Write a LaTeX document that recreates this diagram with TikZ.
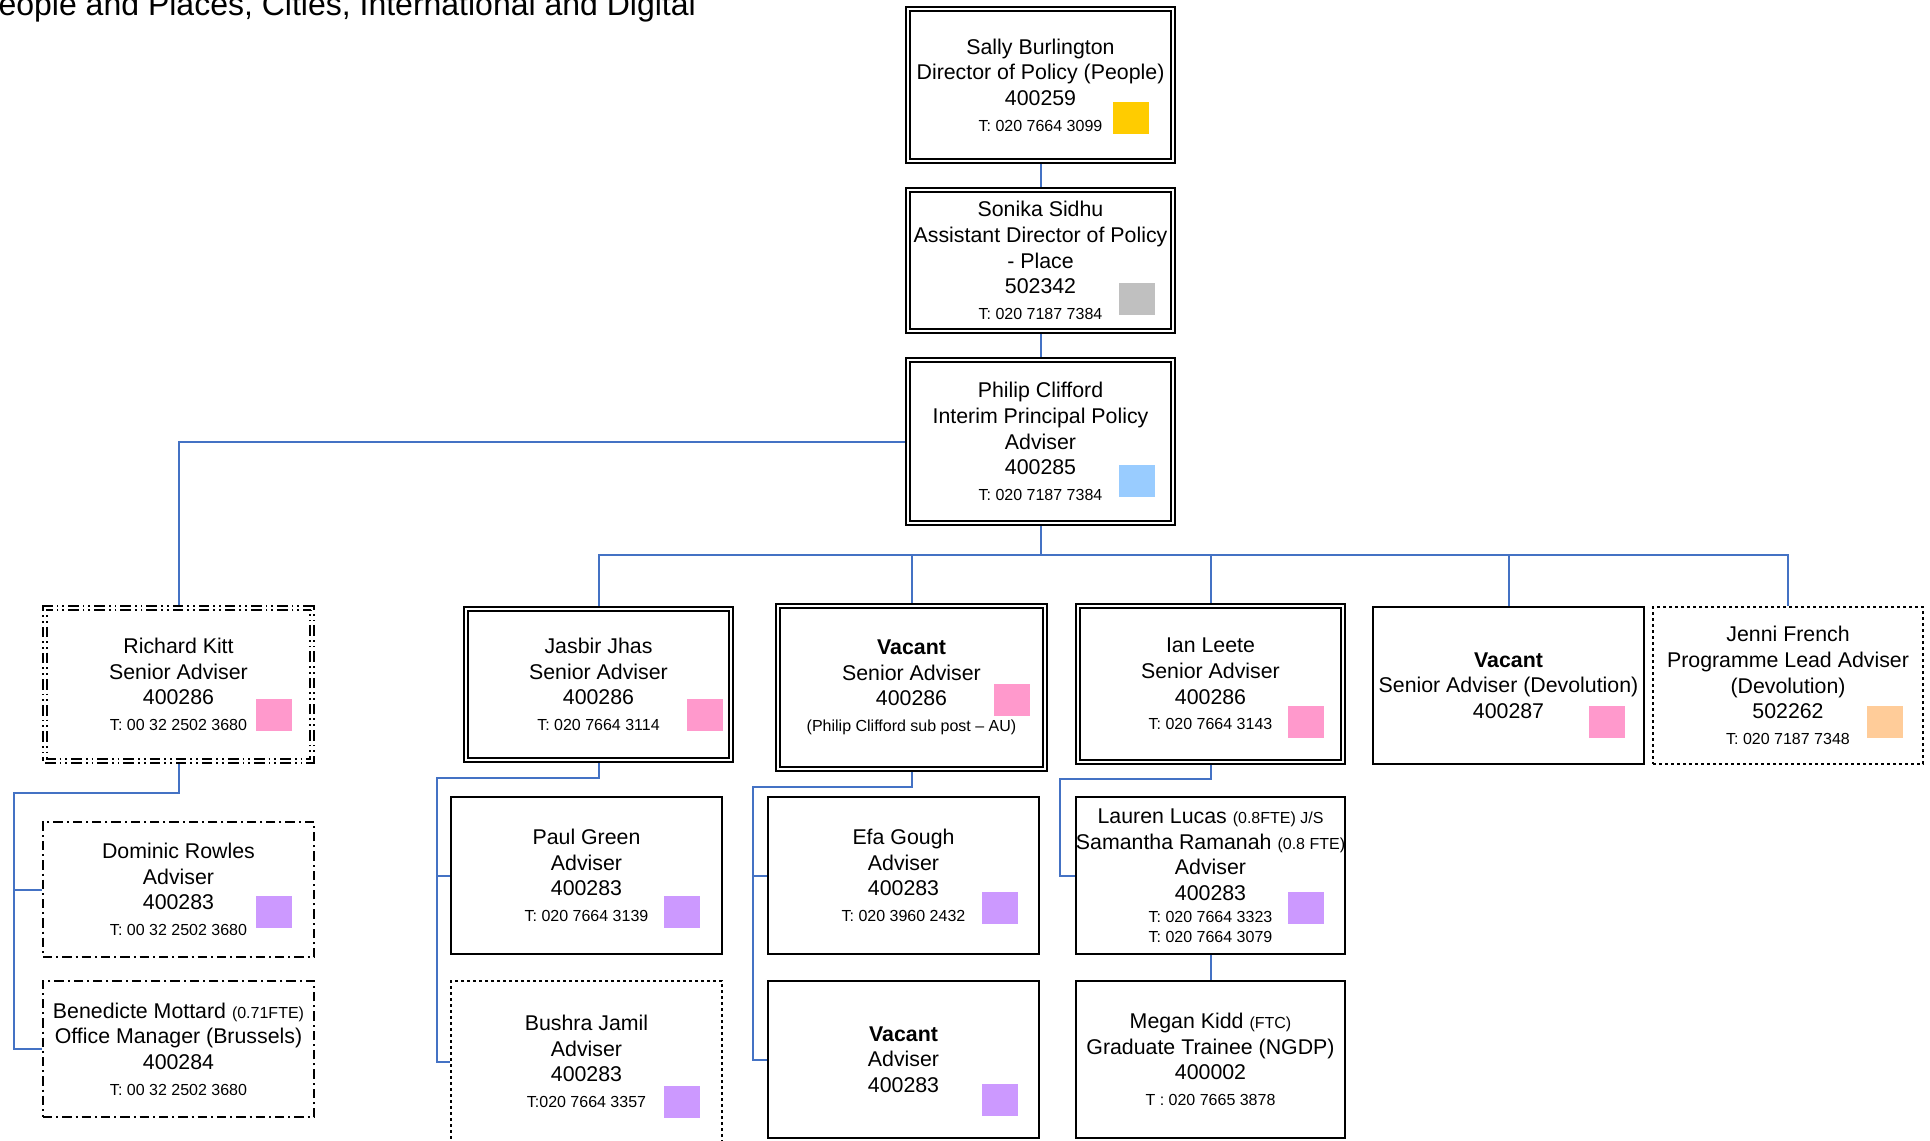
\documentclass[tikz,border=0pt]{standalone}
\usepackage{fontspec}
\setmainfont{Liberation Sans}
\usetikzlibrary{backgrounds}
\definecolor{linkc}{HTML}{4472C4}
\definecolor{yellowc}{HTML}{FFCC00}
\definecolor{greyc}{HTML}{C0C0C0}
\definecolor{bluec}{HTML}{99CCFF}
\definecolor{pinkc}{HTML}{FF99CC}
\definecolor{purplec}{HTML}{CC99FF}
\definecolor{peachc}{HTML}{FFCC99}
\newcommand\sm[1]{{\fontsize{12pt}{14pt}\selectfont #1}}
\newcommand\orgbox[7]{%
  \pgfmathsetmacro\orgbw{(#5-#3)*0.75}%
  \pgfmathsetmacro\orgbh{(#6-#4)*0.75}%
  \node[#2, minimum width=\orgbw pt, minimum height=\orgbh pt] (#1) at ({(#3+#5)/2},{(#4+#6)/2}) {#7};}
\begin{document}
\begin{tikzpicture}[x=0.75pt,y=-0.75pt,
  basebox/.style={draw=black, fill=white, align=center, inner sep=0pt, text=black,
    font=\fontsize{16pt}{19.2pt}\selectfont},
  dblbox/.style={basebox, double=white, double distance=2.2pt, line width=1.35pt},
  solidbox/.style={basebox, line width=1.5pt},
  thickbox/.style={basebox, line width=2pt},
  dotbox/.style={basebox, line width=1.3pt, dash pattern=on 2.5pt off 2pt},
  ddbox/.style={basebox, line width=1.5pt, dash pattern=on 7pt off 3pt on 1.5pt off 3pt},
  dddbox/.style={dblbox, dash pattern=on 8pt off 3pt on 1.3pt off 3pt on 1.3pt off 3pt},
  sqbox/.style={minimum width=27pt, minimum height=24pt, inner sep=0pt},
  linkline/.style={draw=linkc, line width=1.5pt}]
\useasboundingbox (0,0) rectangle (1930,1140);
\begin{scope}
\clip (0,0) rectangle (1930,1140);
\node[anchor=base west, inner sep=0pt, font=\fontsize{24pt}{28pt}\selectfont] (title) at (-23,15)
  {People and Places, Cities, International and Digital};
\end{scope}

% top chain
\orgbox{sally}{dblbox}{908}{9}{1173}{161}{Sally Burlington\\Director of Policy (People)\\400259\\\sm{T: 020 7664 3099}}
\orgbox{sonika}{dblbox}{908}{190}{1173}{331}{Sonika Sidhu\\Assistant Director of Policy\\- Place\\502342\\\sm{T: 020 7187 7384}}
\orgbox{philip}{dblbox}{908}{360}{1173}{523}{Philip Clifford\\Interim Principal Policy\\Adviser\\400285\\\sm{T: 020 7187 7384}}

% row 2
\orgbox{richard}{dddbox}{45}{608}{312}{761}{Richard Kitt\\Senior Adviser\\400286\\\sm{T: 00 32 2502 3680}}
\orgbox{jasbir}{dblbox}{466}{609}{731}{760}{Jasbir Jhas\\Senior Adviser\\400286\\\sm{T: 020 7664 3114}}
\orgbox{vacsa}{dblbox}{778}{606}{1045}{769}{\textbf{Vacant}\\Senior Adviser\\400286\\\sm{(Philip Clifford sub post – AU)}}
\orgbox{ian}{dblbox}{1078}{606}{1343}{762}{Ian Leete\\Senior Adviser\\400286\\\sm{T: 020 7664 3143}}
\orgbox{vacdev}{thickbox}{1373}{607}{1644}{764}{\textbf{Vacant}\\Senior Adviser (Devolution)\\400287}
\orgbox{jenni}{dotbox}{1653}{607}{1923}{764}{Jenni French\\Programme Lead Adviser\\(Devolution)\\502262\\\sm{T: 020 7187 7348}}

% row 3
\orgbox{dominic}{ddbox}{43}{822}{314}{957}{Dominic Rowles\\Adviser\\400283\\\sm{T: 00 32 2502 3680}}
\orgbox{benedicte}{ddbox}{43}{981}{314}{1117}{Benedicte Mottard \sm{(0.71FTE)}\\Office Manager (Brussels)\\400284\\\sm{T: 00 32 2502 3680}}
\orgbox{paul}{solidbox}{451}{797}{722}{954}{Paul Green\\Adviser\\400283\\\sm{T: 020 7664 3139}}
\orgbox{bushra}{dotbox}{451}{981}{722}{1142}{Bushra Jamil\\Adviser\\400283\\\sm{T:020 7664 3357}}
\orgbox{efa}{solidbox}{768}{797}{1039}{954}{Efa Gough\\Adviser\\400283\\\sm{T: 020 3960 2432}}
\orgbox{vacadv}{solidbox}{768}{981}{1039}{1138}{\textbf{Vacant}\\Adviser\\400283}
\orgbox{lauren}{solidbox}{1076}{797}{1345}{954}{Lauren Lucas \sm{(0.8FTE) J/S}\\Samantha Ramanah \sm{(0.8 FTE)}\\Adviser\\400283\\[-2.5pt]\sm{T: 020 7664 3323}\\[-4.5pt]\sm{T: 020 7664 3079}}
\orgbox{megan}{solidbox}{1076}{981}{1345}{1138}{Megan Kidd \sm{(FTC)}\\Graduate Trainee (NGDP)\\400002\\\sm{T : 020 7665 3878}}

% colour squares
\node[sqbox, fill=yellowc] (sally-c) at (1130.5,117.5) {};
\node[sqbox, fill=greyc] (sonika-c) at (1136.8,299) {};
\node[sqbox, fill=bluec] (philip-c) at (1136.8,480.7) {};
\node[sqbox, fill=pinkc] (richard-c) at (273.5,715) {};
\node[sqbox, fill=pinkc] (jasbir-c) at (705,715) {};
\node[sqbox, fill=pinkc] (vacsa-c) at (1011.8,700.2) {};
\node[sqbox, fill=pinkc] (ian-c) at (1305.8,722.3) {};
\node[sqbox, fill=pinkc] (vacdev-c) at (1607,722.3) {};
\node[sqbox, fill=peachc] (jenni-c) at (1885,722.3) {};
\node[sqbox, fill=purplec] (dominic-c) at (273.5,912) {};
\node[sqbox, fill=purplec] (paul-c) at (682.2,912) {};
\node[sqbox, fill=purplec] (bushra-c) at (682.2,1101.6) {};
\node[sqbox, fill=purplec] (efa-c) at (1000,908.4) {};
\node[sqbox, fill=purplec] (vacadv-c) at (1000,1100.4) {};
\node[sqbox, fill=purplec] (lauren-c) at (1305.8,908.4) {};

% junction coordinates
\coordinate (busy) at (0,555);
\coordinate (rkj) at (13.5,792.7);
\coordinate (jjj) at (437,778);
\coordinate (vsj) at (753.3,786.5);
\coordinate (ilj) at (1059.8,779);

\begin{scope}[on background layer]
\draw[linkline] (sally.south) -- (sonika.north);
\draw[linkline] (sonika.south) -- (philip.north);
\draw[linkline] (philip.west) -| (richard.north);
\draw[linkline] (philip.south) -- (philip.south |- busy);
\draw[linkline] (jasbir.north) -- (jasbir.north |- busy) -- (jenni.north |- busy) -- (jenni.north);
\draw[linkline] (vacsa.north) -- (vacsa.north |- busy);
\draw[linkline] (ian.north) -- (ian.north |- busy);
\draw[linkline] (vacdev.north) -- (vacdev.north |- busy);
\draw[linkline] (richard.south) |- (rkj) |- (benedicte.west);
\draw[linkline] (rkj) |- (dominic.west);
\draw[linkline] (jasbir.south) |- (jjj) |- (bushra.west);
\draw[linkline] (jjj) |- (paul.west);
\draw[linkline] (vacsa.south) |- (vsj) |- (vacadv.west);
\draw[linkline] (vsj) |- (efa.west);
\draw[linkline] (ian.south) |- (ilj) |- (lauren.west);
\draw[linkline] (lauren.south) -- (megan.north);
\end{scope}
\end{tikzpicture}
\end{document}
